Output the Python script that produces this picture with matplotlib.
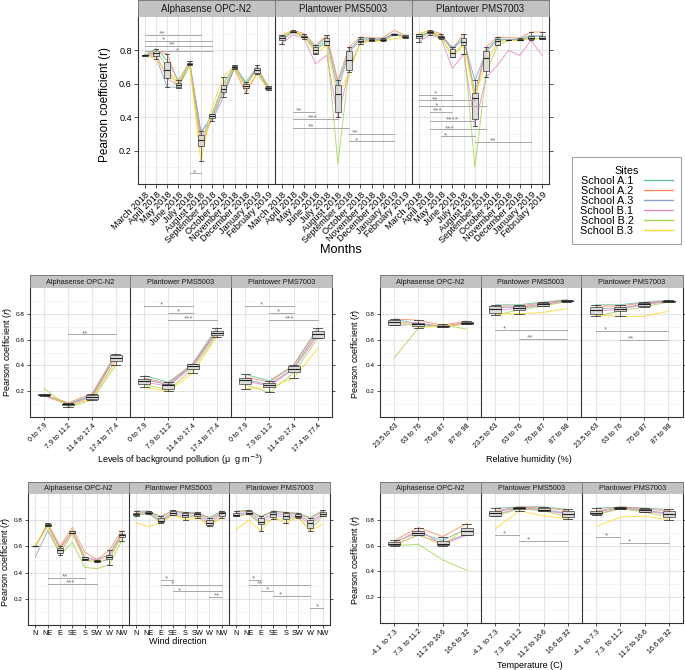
import matplotlib.pyplot as plt
import numpy as np
from matplotlib.lines import Line2D

plt.rcParams['font.family'] = ['Liberation Sans', 'DejaVu Sans']

sites = ['School A.1', 'School A.2', 'School A.3', 'School B.1', 'School B.2', 'School B.3']
site_colors = ['#66c2a5', '#fc8d62', '#8da0cb', '#e78ac3', '#a6d854', '#ffd92f']
sensors = ['Alphasense OPC-N2', 'Plantower PMS5003', 'Plantower PMS7003']

months = ['March 2018', 'April 2018', 'May 2018', 'June 2018', 'July 2018', 'August 2018',
          'September 2018', 'October 2018', 'November 2018', 'December 2018',
          'January 2019', 'February 2019']
pollution_levels = ['0 to 7.9', '7.9 to 11.2', '11.4 to 17.4', '17.4 to 77.4']
humidity_levels = ['23.5 to 63', '63 to 76', '76 to 87', '87 to 98']
wind_dirs = ['N', 'NE', 'E', 'SE', 'S', 'SW', 'W', 'NW']
temp_levels = ['-4.1  to 7.3', '7.3  to 11.2', '11.2 to 16.6', '16.6 to 32']

# rows: School A.1, A.2, A.3, B.1, B.2, B.3 ; columns: categories
month_opc = [
    [0.770, 0.81, 0.74, 0.62, 0.730, 0.30, 0.42, 0.60, 0.710, 0.610, 0.70, 0.580],
    [0.770, 0.79, 0.78, 0.60, 0.720, 0.22, 0.40, 0.55, 0.690, 0.545, 0.66, 0.570],
    [0.775, 0.76, 0.58, 0.58, 0.720, 0.32, 0.38, 0.52, 0.700, 0.600, 0.68, 0.575],
    [0.765, 0.78, 0.63, 0.59, 0.735, 0.28, 0.39, 0.56, 0.705, 0.580, 0.71, 0.565],
    [0.770, 0.80, 0.70, 0.575, 0.710, 0.25, 0.41, 0.58, 0.695, 0.590, 0.69, 0.585],
    [0.765, 0.75, 0.66, 0.61, 0.720, 0.135, 0.46, 0.64, 0.710, 0.570, 0.66, 0.570],
]
month_pms5003 = [
    [0.88, 0.915, 0.89, 0.82, 0.88, 0.60, 0.80, 0.87, 0.870, 0.870, 0.90, 0.885],
    [0.89, 0.920, 0.90, 0.83, 0.89, 0.62, 0.82, 0.88, 0.875, 0.875, 0.92, 0.890],
    [0.86, 0.910, 0.88, 0.81, 0.86, 0.56, 0.79, 0.86, 0.865, 0.865, 0.90, 0.885],
    [0.84, 0.895, 0.87, 0.72, 0.77, 0.40, 0.68, 0.85, 0.860, 0.860, 0.895, 0.880],
    [0.87, 0.910, 0.88, 0.80, 0.85, 0.12, 0.70, 0.84, 0.860, 0.860, 0.89, 0.880],
    [0.89, 0.920, 0.885, 0.78, 0.83, 0.52, 0.67, 0.85, 0.855, 0.855, 0.87, 0.875],
]
month_pms7003 = [
    [0.89, 0.910, 0.89, 0.80, 0.88, 0.55, 0.80, 0.87, 0.865, 0.870, 0.89, 0.88],
    [0.90, 0.920, 0.90, 0.81, 0.90, 0.50, 0.82, 0.88, 0.875, 0.875, 0.91, 0.91],
    [0.88, 0.910, 0.88, 0.82, 0.86, 0.62, 0.79, 0.86, 0.865, 0.865, 0.88, 0.89],
    [0.85, 0.895, 0.87, 0.69, 0.78, 0.35, 0.64, 0.71, 0.800, 0.770, 0.86, 0.77],
    [0.87, 0.905, 0.875, 0.77, 0.84, 0.10, 0.66, 0.83, 0.860, 0.860, 0.87, 0.87],
    [0.90, 0.920, 0.88, 0.76, 0.83, 0.53, 0.72, 0.85, 0.860, 0.860, 0.87, 0.87],
]

pollution_opc = [
    [0.170, 0.100, 0.17, 0.48], [0.175, 0.110, 0.18, 0.49], [0.170, 0.100, 0.16, 0.47],
    [0.165, 0.095, 0.15, 0.44], [0.220, 0.080, 0.13, 0.40], [0.180, 0.090, 0.14, 0.43],
]
pollution_pms5003 = [
    [0.32, 0.27, 0.41, 0.69], [0.30, 0.26, 0.41, 0.67], [0.29, 0.25, 0.40, 0.66],
    [0.27, 0.24, 0.39, 0.65], [0.25, 0.21, 0.37, 0.63], [0.23, 0.20, 0.34, 0.62],
]
pollution_pms7003 = [
    [0.33, 0.28, 0.40, 0.69], [0.31, 0.27, 0.40, 0.67], [0.29, 0.25, 0.38, 0.65],
    [0.28, 0.24, 0.37, 0.63], [0.25, 0.19, 0.34, 0.61], [0.22, 0.23, 0.30, 0.53],
]

humidity_opc = [
    [0.76, 0.72, 0.700, 0.730], [0.76, 0.75, 0.710, 0.745], [0.71, 0.72, 0.705, 0.720],
    [0.73, 0.73, 0.700, 0.735], [0.46, 0.69, 0.720, 0.680], [0.74, 0.70, 0.700, 0.720],
]
humidity_pms5003 = [
    [0.87, 0.87, 0.890, 0.910], [0.86, 0.86, 0.885, 0.905], [0.85, 0.85, 0.875, 0.900],
    [0.83, 0.84, 0.870, 0.900], [0.79, 0.83, 0.860, 0.895], [0.80, 0.80, 0.810, 0.840],
]
humidity_pms7003 = [
    [0.87, 0.870, 0.890, 0.905], [0.86, 0.860, 0.885, 0.900], [0.84, 0.845, 0.875, 0.900],
    [0.82, 0.835, 0.870, 0.895], [0.78, 0.820, 0.855, 0.890], [0.79, 0.780, 0.780, 0.820],
]

wind_opc = [
    [0.60, 0.770, 0.580, 0.720, 0.520, 0.49, 0.54, 0.70],
    [0.60, 0.775, 0.600, 0.745, 0.555, 0.50, 0.57, 0.72],
    [0.52, 0.720, 0.550, 0.700, 0.500, 0.48, 0.50, 0.68],
    [0.60, 0.765, 0.590, 0.710, 0.510, 0.50, 0.53, 0.69],
    [0.60, 0.755, 0.535, 0.630, 0.440, 0.43, 0.46, 0.64],
    [0.60, 0.760, 0.560, 0.700, 0.495, 0.48, 0.51, 0.67],
]
wind_pms5003 = [
    [0.870, 0.870, 0.83, 0.870, 0.860, 0.860, 0.820, 0.870],
    [0.860, 0.865, 0.82, 0.875, 0.855, 0.855, 0.810, 0.865],
    [0.850, 0.860, 0.80, 0.860, 0.850, 0.850, 0.790, 0.860],
    [0.840, 0.850, 0.79, 0.850, 0.830, 0.840, 0.770, 0.850],
    [0.835, 0.855, 0.78, 0.840, 0.820, 0.830, 0.755, 0.830],
    [0.780, 0.750, 0.78, 0.840, 0.800, 0.820, 0.760, 0.820],
]
wind_pms7003 = [
    [0.870, 0.875, 0.83, 0.870, 0.860, 0.855, 0.82, 0.875],
    [0.860, 0.870, 0.82, 0.870, 0.855, 0.850, 0.81, 0.865],
    [0.845, 0.860, 0.80, 0.855, 0.840, 0.840, 0.79, 0.850],
    [0.835, 0.850, 0.78, 0.840, 0.820, 0.830, 0.77, 0.840],
    [0.830, 0.845, 0.77, 0.810, 0.810, 0.820, 0.73, 0.830],
    [0.730, 0.800, 0.72, 0.820, 0.780, 0.820, 0.72, 0.770],
]

temp_opc = [
    [0.63, 0.70, 0.64, 0.73], [0.64, 0.74, 0.67, 0.77], [0.61, 0.68, 0.62, 0.69],
    [0.62, 0.72, 0.61, 0.68], [0.60, 0.61, 0.49, 0.41], [0.60, 0.69, 0.60, 0.74],
]
temp_pms5003 = [
    [0.89, 0.900, 0.900, 0.88], [0.87, 0.900, 0.895, 0.87], [0.86, 0.895, 0.880, 0.85],
    [0.84, 0.890, 0.875, 0.84], [0.83, 0.885, 0.870, 0.82], [0.73, 0.870, 0.830, 0.81],
]
temp_pms7003 = [
    [0.89, 0.900, 0.890, 0.88], [0.87, 0.900, 0.885, 0.87], [0.86, 0.895, 0.875, 0.85],
    [0.845, 0.890, 0.870, 0.84], [0.84, 0.885, 0.860, 0.82], [0.75, 0.820, 0.830, 0.80],
]

# significance brackets: (from category, to category, r level, label, label position)
month_opc_sig = [(0, 5, 0.895, '**', 1.55), (0, 6, 0.858, '*', 1.65), (0, 6, 0.826, '**', 2.45),
                 (0, 6, 0.795, '*', 2.95), (4, 5, 0.064, '*', 4.4)]
month_pms5003_sig = [(1, 3, 0.433, '**', 1.55), (1, 5, 0.39, '***', 2.8),
                     (1, 6, 0.337, '**', 2.65), (6, 10, 0.30, '**', 6.5), (6, 10, 0.256, '*', 6.7)]
month_pms7003_sig = [(0, 3, 0.534, '*', 1.45), (0, 5, 0.50, '**', 1.45), (0, 6, 0.465, '*', 1.6),
                     (1, 3, 0.43, '***', 1.7), (1, 5, 0.38, '****', 3.0),
                     (1, 6, 0.328, '***', 2.8), (2, 5, 0.286, '*', 2.4), (5, 10, 0.252, '**', 6.6)]
pollution_opc_sig = [(1, 3, 0.64, '**', 1.7)]
pollution_pms5003_sig = [(0, 2, 0.863, '*', 0.72), (1, 2, 0.804, '*', 1.42), (1, 3, 0.75, '***', 1.83)]
pollution_pms7003_sig = [(0, 2, 0.863, '*', 0.68), (1, 2, 0.804, '*', 1.38), (1, 3, 0.75, '***', 1.83)]
humidity_opc_sig = []
humidity_pms5003_sig = [(0, 3, 0.672, '*', 0.38), (1, 3, 0.605, '**', 1.45)]
humidity_pms7003_sig = [(0, 3, 0.664, '*', 0.4), (1, 3, 0.597, '**', 1.47)]
wind_opc_sig = [(1, 4, 0.36, '**', 2.43), (1, 5, 0.315, '***', 2.84)]
wind_pms5003_sig = [(2, 3, 0.347, '*', 2.5), (2, 7, 0.307, '*', 2.95), (3, 7, 0.256, '*', 3.5),
                    (6, 7, 0.215, '**', 6.6)]
wind_pms7003_sig = [(1, 2, 0.347, '*', 1.35), (1, 6, 0.307, '**', 1.95), (2, 3, 0.262, '*', 2.53),
                    (3, 6, 0.225, '*', 3.57), (6, 7, 0.131, '*', 6.6)]
temp_opc_sig = []
temp_pms5003_sig = [(0, 1, 0.68, '*', 0.36), (1, 3, 0.634, '*', 1.35)]
temp_pms7003_sig = [(0, 1, 0.67, '*', 0.4), (1, 3, 0.62, '*', 1.37)]

W, H = 685, 670
fig = plt.figure(figsize=(W / 100, H / 100), dpi=100)


def px(x0, y0, x1, y1):
    return [x0 / W, 1 - y1 / H, (x1 - x0) / W, (y1 - y0) / H]


def draw_panel(ax, cats, vals, sigs, first, last, fs):
    vals = np.array(vals)
    x = np.arange(len(cats))
    for row, c in zip(vals, site_colors):
        ax.plot(x, row, color=c, lw=0.7, alpha=0.85, zorder=2)
    ax.boxplot(vals, positions=x, widths=0.5, patch_artist=True, showfliers=False,
               boxprops=dict(facecolor=(0.85, 0.85, 0.85, 0.9), edgecolor='#3a3a3a', lw=0.5),
               medianprops=dict(color='#222222', lw=0.8),
               whiskerprops=dict(color='#3a3a3a', lw=0.5),
               capprops=dict(color='#3a3a3a', lw=0.6), capwidths=0.4, zorder=3)
    for a, b, yv, lab, xl in sigs:
        ax.plot([a, b], [yv, yv], color='#a8a8a8', lw=0.7, zorder=4)
        ax.text(xl, yv - 0.004, lab, ha='center', va='baseline', fontsize=fs['star'],
                color='#7a7a7a', zorder=4)
    ax.set_xlim(-0.6, len(cats) - 0.4)
    ax.set_ylim(0.0, 1.0)
    ax.set_xticks(x)
    if fs['rot']:
        ax.set_xticklabels(cats, rotation=45, ha='right', rotation_mode='anchor',
                           fontsize=fs['xtick'])
    else:
        ax.set_xticklabels(cats, fontsize=fs['xtick'])
    ax.set_yticks([0.2, 0.4, 0.6, 0.8])
    ax.set_yticks([0.1, 0.3, 0.5, 0.7, 0.9], minor=True)
    ax.set_yticklabels(['0.2', '0.4', '0.6', '0.8'], fontsize=fs['ytick'])
    ax.grid(which='major', color='#e4e4e4', lw=0.8, zorder=0)
    ax.grid(which='minor', axis='y', color='#f2f2f2', lw=0.5, zorder=0)
    ax.set_axisbelow(True)
    ax.tick_params(which='minor', length=0)
    ax.tick_params(axis='both', which='major', length=fs['tlen'], width=0.6,
                   color='#333333', pad=1.5)
    ax.tick_params(axis='y', left=first, labelleft=first, right=last, labelright=False)
    ax.spines['top'].set_visible(False)
    ax.spines['right'].set_visible(last)
    for s in ['left', 'bottom', 'right']:
        ax.spines[s].set_color('#333333')
        ax.spines[s].set_linewidth(0.8)


def facet_row(xs, y_strip, y_top, y_bot, cats, datasets, sigsets, fs):
    for i in range(3):
        sax = fig.add_axes(px(xs[i], y_strip, xs[i + 1], y_top))
        sax.set_facecolor('#c2c2c2')
        sax.set_xticks([])
        sax.set_yticks([])
        for s in sax.spines.values():
            s.set_color('#7a7a7a')
            s.set_linewidth(0.7)
        sax.text(0.5, 0.45, sensors[i], ha='center', va='center', fontsize=fs['strip'],
                 color='#1a1a1a')
        ax = fig.add_axes(px(xs[i], y_top, xs[i + 1], y_bot))
        draw_panel(ax, cats, datasets[i], sigsets[i], i == 0, i == 2, fs)


top_fs = dict(strip=7, xtick=6.7, ytick=6.6, star=6, tlen=3, rot=True)
small_fs = dict(strip=5.3, xtick=5, ytick=4.6, star=5.8, tlen=2.2, rot=True)
wind_fs = dict(strip=5.3, xtick=5.3, ytick=4.6, star=5.8, tlen=2.2, rot=False)

facet_row([138, 275, 412, 549], 0, 17, 184, months,
          [month_opc, month_pms5003, month_pms7003],
          [month_opc_sig, month_pms5003_sig, month_pms7003_sig], top_fs)
facet_row([30, 130, 231, 332], 275, 288, 417, pollution_levels,
          [pollution_opc, pollution_pms5003, pollution_pms7003],
          [pollution_opc_sig, pollution_pms5003_sig, pollution_pms7003_sig], small_fs)
facet_row([380, 481, 581, 683], 275, 288, 417, humidity_levels,
          [humidity_opc, humidity_pms5003, humidity_pms7003],
          [humidity_opc_sig, humidity_pms5003_sig, humidity_pms7003_sig], small_fs)
facet_row([28, 129, 229, 330], 482, 494, 625, wind_dirs,
          [wind_opc, wind_pms5003, wind_pms7003],
          [wind_opc_sig, wind_pms5003_sig, wind_pms7003_sig], wind_fs)
facet_row([380, 481, 582, 683], 482, 494, 623, temp_levels,
          [temp_opc, temp_pms5003, temp_pms7003],
          [temp_opc_sig, temp_pms5003_sig, temp_pms7003_sig], small_fs)


def ftext(x, y, s, size, rot=0):
    fig.text(x / W, 1 - y / H, s, ha='center', va='center', fontsize=size, rotation=rot)


ylab = 'Pearson coefficient ($\\it{r}$)'
ftext(105, 104, 'Pearson coefficient (r)', 8.5, 90)
ftext(341, 250, 'Months', 9.2)
ftext(8, 352, ylab, 6.5, 90)
ftext(180, 460, 'Levels of background pollution (μ  g m$^{-3}$)', 6.5)
ftext(355, 354, ylab, 6.5, 90)
ftext(529, 459, 'Relative humidity (%)', 6.5)
ftext(6, 562, ylab, 6.5, 90)
ftext(178, 642, 'Wind direction', 6.5)
ftext(355, 560, ylab, 6.5, 90)
ftext(530, 665, 'Temperature (C)', 6.5)

handles = [Line2D([], [], color=c, lw=1.0) for c in site_colors]
leg = fig.legend(handles, sites, loc='center', bbox_to_anchor=(626.5 / W, 1 - 200.5 / H),
                 markerfirst=False, title='Sites', fontsize=7.8, title_fontsize=7.8,
                 frameon=True, fancybox=False, edgecolor='#8c8c8c', labelspacing=0.0,
                 handlelength=2.6, handletextpad=1.0, borderpad=0.8)
leg.get_frame().set_linewidth(0.8)

fig.savefig('out.png', dpi=100)
